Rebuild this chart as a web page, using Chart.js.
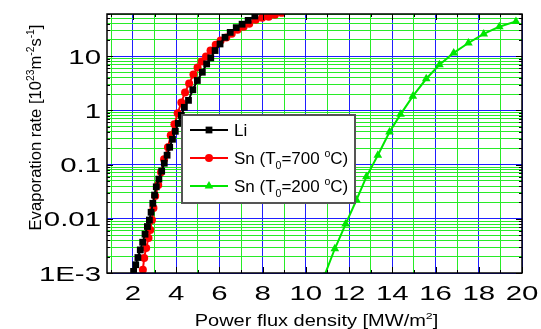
<!DOCTYPE html>
<html>
<head>
<meta charset="utf-8">
<script src="https://cdn.jsdelivr.net/npm/chart.js@4.4.1/dist/chart.umd.min.js"></script>
<style>
    html, body { margin: 0; padding: 0; background: #fff; }
    #wrap { width: 541px; height: 329px; }
</style>
</head>
<body>
<div id="wrap"><canvas id="evapChart" width="541" height="329"></canvas></div>
<script>
// Li
const liX = [2.03, 2.13, 2.23, 2.34, 2.45, 2.56, 2.67, 2.76, 2.84, 2.92,
             3.00, 3.08, 3.20, 3.33, 3.45, 3.58, 3.70, 3.83, 3.96, 4.10,
             4.24, 4.38, 4.57, 4.77, 4.98, 5.21, 5.41, 5.60, 5.80, 6.03,
             6.26, 6.50, 6.78, 7.05, 7.33, 7.64];
const liY = [0.00107, 0.00142, 0.00193, 0.00267, 0.0037, 0.0052, 0.0072, 0.0095, 0.0132, 0.0193,
             0.0274, 0.0389, 0.054, 0.076, 0.106, 0.149, 0.209, 0.293, 0.411, 0.577,
             0.81, 1.14, 1.53, 2.4, 3.56, 5.06, 7.2, 9.3, 12.7, 16.8,
             22.3, 27.5, 33.6, 38.9, 45.7, 55.1];

// Sn, T0 = 700 C
const snHotX = [2.46, 2.52, 2.61, 2.72, 2.80, 2.88, 2.95, 3.03, 3.17, 3.30,
                3.44, 3.62, 3.75, 3.92, 4.07, 4.24, 4.41, 4.60, 4.80, 4.99,
                5.18, 5.38, 5.59, 5.83, 6.06, 6.32, 6.57, 6.84, 7.12, 7.38,
                7.68, 7.98, 8.28, 8.57, 8.88];
const snHotY = [0.00115, 0.0019, 0.0029, 0.0044, 0.0062, 0.0095, 0.0158, 0.0262, 0.0418, 0.0725,
                0.126, 0.209, 0.347, 0.553, 0.881, 1.40, 2.14, 3.14, 4.59, 6.17,
                7.96, 9.84, 12.7, 16.3, 19.4, 22.0, 26.0, 30.8, 35.0, 39.7,
                47.1, 51.3, 53.5, 58.2, 63];

// Sn, T0 = 200 C (first point lies below the axis, only the line shows)
const snColdX = [10.84, 11.34, 11.84, 12.34, 12.80, 13.33, 13.87, 14.38, 14.95, 15.57,
                 16.18, 16.84, 17.52, 18.23, 18.95, 19.72];
const snColdY = [0.00085, 0.0028, 0.008, 0.0222, 0.0594, 0.149, 0.399, 0.845, 1.83, 3.83,
                 6.92, 11.5, 17.5, 25.7, 35.0, 43.8];

// ticks
const xTickValues = [1, 2, 3, 4, 5, 6, 7, 8, 9, 10, 11, 12, 13, 14, 15, 16, 17, 18, 19, 20];
const xTickLabels = ['2', '4', '6', '8', '10', '12', '14', '16', '18', '20'];
const yTickValues = [0.001, 0.01, 0.1, 1, 10];
const yTickLabels = ['1E-3', '0.01', '0.1', '1', '10'];

// legend / axis texts, pieces marked sub or sup
const seriesLabels = [
    [['Li']],
    [['Sn (T'], ['0', 'sub'], ['=700 '], ['o', 'sup'], ['C)']],
    [['Sn (T'], ['0', 'sub'], ['=200 '], ['o', 'sup'], ['C)']]
];
const yTitle = [['Evaporation rate [10'], ['23', 'sup'], ['m'], ['-2', 'sup'], ['s'], ['-1', 'sup'], [']']];
const xTitle = [['Power flux density [MW/m'], ['2', 'sup'], [']']];

const FONT = "'Liberation Sans', Arial, sans-serif";
const BLUE = 'rgb(30,30,255)';
const GREEN = 'rgb(40,235,40)';
const TICK_SIZE = 21;
const TICK_STRETCH = 1.4; // tick numbers in the original are drawn wide

function toPoints(xs, ys) {
    return xs.map((x, i) => ({ x: x, y: ys[i] }));
}

function isDecade(v) {
    return yTickValues.some(d => Math.abs(v / d - 1) < 1e-6);
}

// text with sub/superscript pieces
function richWidth(ctx, parts, size) {
    let w = 0;
    parts.forEach(p => {
        ctx.font = (p[1] ? size * 0.62 : size) + 'px ' + FONT;
        w += ctx.measureText(p[0]).width;
    });
    return w;
}
function drawRich(ctx, parts, x, y, size) {
    parts.forEach(p => {
        const s = p[1] ? size * 0.62 : size;
        ctx.font = s + 'px ' + FONT;
        let dy = 0;
        if (p[1] === 'sub') dy = size * 0.28;
        if (p[1] === 'sup') dy = -size * 0.42;
        ctx.fillText(p[0], x, y + dy);
        x += ctx.measureText(p[0]).width;
    });
}

function drawWide(ctx, text, x, y, align) {
    ctx.save();
    ctx.translate(x, y);
    ctx.scale(TICK_STRETCH, 1);
    ctx.font = TICK_SIZE + 'px ' + FONT;
    ctx.textAlign = align;
    ctx.textBaseline = 'alphabetic';
    ctx.fillText(text, 0, 0);
    ctx.restore();
}

function drawMarker(ctx, style, x, y, r, color) {
    ctx.fillStyle = color;
    ctx.beginPath();
    if (style === 'rect') {
        const s = r * Math.SQRT1_2;
        ctx.rect(x - s, y - s, 2 * s, 2 * s);
    } else if (style === 'triangle') {
        ctx.moveTo(x, y - r);
        ctx.lineTo(x + r * 0.866, y + r * 0.5);
        ctx.lineTo(x - r * 0.866, y + r * 0.5);
        ctx.closePath();
    } else {
        ctx.arc(x, y, r, 0, Math.PI * 2);
    }
    ctx.fill();
}

const decorPlugin = {
    id: 'decor',
    afterDraw(chart) {
        const { ctx, chartArea: a, scales } = chart;
        ctx.save();

        // inward tick marks on the four sides
        ctx.strokeStyle = '#000';
        ctx.lineWidth = 1;
        ctx.beginPath();
        scales.x.ticks.forEach(t => {
            const px = Math.round(scales.x.getPixelForValue(t.value)) + 0.5;
            const len = t.value % 2 === 0 ? 6 : 3;
            ctx.moveTo(px, a.bottom); ctx.lineTo(px, a.bottom - len);
            ctx.moveTo(px, a.top); ctx.lineTo(px, a.top + len);
        });
        scales.y.ticks.forEach(t => {
            const py = Math.round(scales.y.getPixelForValue(t.value)) + 0.5;
            const len = isDecade(t.value) ? 6 : 3;
            ctx.moveTo(a.left, py); ctx.lineTo(a.left + len, py);
            ctx.moveTo(a.right, py); ctx.lineTo(a.right - len, py);
        });
        ctx.stroke();

        // frame
        ctx.lineWidth = 1.5;
        ctx.strokeRect(a.left, a.top, a.right - a.left, a.bottom - a.top);

        // tick numbers
        ctx.fillStyle = '#000';
        xTickLabels.forEach(lbl => {
            drawWide(ctx, lbl, scales.x.getPixelForValue(Number(lbl)), a.bottom + 27, 'center');
        });
        yTickLabels.forEach((lbl, i) => {
            drawWide(ctx, lbl, a.left - 6, scales.y.getPixelForValue(yTickValues[i]) + 7.5, 'right');
        });

        // axis titles
        ctx.textBaseline = 'alphabetic';
        ctx.textAlign = 'left';
        const xw = richWidth(ctx, xTitle, 16);
        ctx.save();
        ctx.translate(316.5, 326);
        ctx.scale(1.25, 1);
        drawRich(ctx, xTitle, -xw / 2, 0, 16);
        ctx.restore();

        ctx.save();
        ctx.translate(41, 127.5);
        ctx.rotate(-Math.PI / 2);
        const yw = richWidth(ctx, yTitle, 16.6);
        drawRich(ctx, yTitle, -yw / 2, 0, 16.6);
        ctx.restore();

        // legend box
        const box = { left: 182, top: 115, right: 355, bottom: 203 };
        ctx.fillStyle = '#fff';
        ctx.fillRect(box.left, box.top, box.right - box.left, box.bottom - box.top);
        ctx.strokeStyle = '#555';
        ctx.lineWidth = 2;
        ctx.strokeRect(box.left, box.top, box.right - box.left, box.bottom - box.top);

        chart.data.datasets.forEach((ds, i) => {
            const rowY = 130 + i * 28;
            ctx.strokeStyle = ds.borderColor;
            ctx.lineWidth = ds.borderWidth;
            ctx.beginPath();
            ctx.moveTo(190, rowY);
            ctx.lineTo(228, rowY);
            ctx.stroke();
            drawMarker(ctx, ds.pointStyle, 209, rowY, ds.pointRadius, ds.pointBackgroundColor);
            ctx.fillStyle = '#000';
            drawRich(ctx, seriesLabels[i], 234, rowY + 6, 17);
        });

        ctx.restore();
    }
};

Chart.defaults.font.family = FONT;
Chart.defaults.color = '#000';

const ctx = document.getElementById('evapChart').getContext('2d');
const chart = new Chart(ctx, {
    type: 'scatter',
    data: {
        datasets: [
            {
                label: 'Li',
                data: toPoints(liX, liY),
                showLine: true,
                borderColor: '#000',
                borderWidth: 2,
                pointStyle: 'rect',
                pointRadius: 4.8,
                pointBackgroundColor: '#000',
                pointBorderColor: '#000',
                pointBorderWidth: 0
            },
            {
                label: 'Sn (T0=700 °C)',
                data: toPoints(snHotX, snHotY),
                showLine: true,
                borderColor: 'rgb(255,0,0)',
                borderWidth: 2,
                pointStyle: 'circle',
                pointRadius: 4,
                pointBackgroundColor: 'rgb(255,0,0)',
                pointBorderColor: 'rgb(255,0,0)',
                pointBorderWidth: 0
            },
            {
                label: 'Sn (T0=200 °C)',
                data: toPoints(snColdX, snColdY),
                showLine: true,
                borderColor: 'rgb(0,230,0)',
                borderWidth: 2,
                pointStyle: 'triangle',
                pointRadius: 5,
                pointBackgroundColor: 'rgb(0,230,0)',
                pointBorderColor: 'rgb(0,230,0)',
                pointBorderWidth: 0
            }
        ]
    },
    options: {
        responsive: false,
        animation: false,
        devicePixelRatio: 1,
        layout: {
            padding: { top: 14, right: 19, bottom: 0, left: 0 }
        },
        scales: {
            x: {
                type: 'linear',
                min: 0.8,
                max: 20,
                afterBuildTicks: scale => {
                    scale.ticks = xTickValues.map(v => ({ value: v }));
                },
                afterFit: scale => { scale.height = 56; },
                border: { display: false },
                grid: {
                    drawTicks: false,
                    lineWidth: 1,
                    color: c => (c.tick && c.tick.value % 2 === 0) ? BLUE : GREEN
                },
                // numbers are drawn by the plugin (wider glyphs)
                ticks: { display: false, autoSkip: false, maxRotation: 0 }
            },
            y: {
                type: 'logarithmic',
                min: 0.001,
                max: 60,
                afterBuildTicks: scale => {
                    // keep 1..9 x 10^n only
                    scale.ticks = scale.ticks.filter(t => {
                        const m = t.value / Math.pow(10, Math.floor(Math.log10(t.value) + 1e-9));
                        return Math.abs(m - Math.round(m)) < 1e-6;
                    });
                },
                afterFit: scale => { scale.width = 107; },
                border: { display: false },
                grid: {
                    drawTicks: false,
                    lineWidth: 1,
                    color: c => (c.tick && isDecade(c.tick.value)) ? BLUE : GREEN
                },
                ticks: { display: false, autoSkip: false }
            }
        },
        plugins: {
            legend: { display: false },
            tooltip: { enabled: false },
            title: { display: false }
        }
    },
    plugins: [decorPlugin]
});
</script>
</body>
</html>
